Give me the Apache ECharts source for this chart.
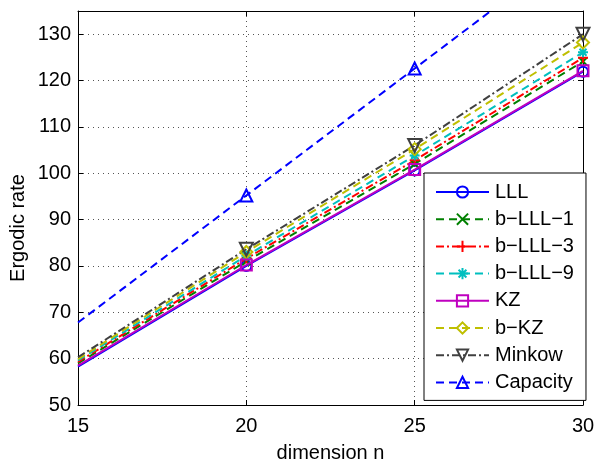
<!DOCTYPE html>
<html>
<head>
<meta charset="utf-8">
<script src="https://cdn.jsdelivr.net/npm/echarts@6/dist/echarts.min.js"></script>
<style>
html,body{margin:0;padding:0;background:#fff;}
#chart{width:598px;height:468px;}
</style>
</head>
<body>
<div id="chart"></div>
<script>
// ---- data ----
const dimensions = [15, 20, 25, 30];
const lll      = [58.3, 80.0, 100.6, 121.9];
const bLLL1    = [59.0, 81.0, 102.0, 124.1];
const bLLL3    = [59.3, 81.6, 102.8, 124.9];
const bLLL9    = [59.6, 82.2, 103.8, 126.1];
const kz       = [58.5, 80.2, 100.8, 122.1];
const bKZ      = [59.9, 83.0, 105.2, 128.2];
const minkow   = [60.3, 83.6, 106.0, 130.0];
const capacity = [67.8, 95.2, 122.6, 150.0];
const yTicks = [50, 60, 70, 80, 90, 100, 110, 120, 130];
const xTicks = [15, 20, 25, 30];

const FONT = '"Liberation Sans", Arial, sans-serif';
const SYM_X = 'path://M0,0L10,10M10,0L0,10';
const SYM_PLUS = 'path://M5,0L5,10M0,5L10,5';
const SYM_STAR = 'path://M5,0L5,10M0,5L10,5M1.5,1.5L8.5,8.5M8.5,1.5L1.5,8.5';
const SYM_DOWN = 'path://M0,0L10,0L5,9Z';
const SYM_UP = 'path://M5,0L10,9L0,9Z';

function mk(name, vals, color, lineType, symbol, symSize, z) {
  return {
    name: name,
    type: 'line',
    z: z,
    data: vals.map((v, i) => i === 0 ? {value: [dimensions[i], v], symbol: 'none'} : {value: [dimensions[i], v]}),
    symbol: symbol,
    symbolSize: symSize,
    showAllSymbol: true,
    lineStyle: {color: color, width: 2, type: lineType},
    itemStyle: {color: 'rgba(255,255,255,0)', borderColor: color, borderWidth: 2},
    emphasis: {disabled: true},
    animation: false,
    clip: true
  };
}

const chart = echarts.init(document.getElementById('chart'), null, {renderer: 'canvas'});
const dash = [8, 5];
const dashDot = [8, 3, 2, 3];
const series = [
  mk('LLL', lll, '#0000ff', 'solid', 'circle', 10, 2),
  mk('b\u2212LLL\u22121', bLLL1, '#008000', dash, SYM_X, 8, 3),
  mk('b\u2212LLL\u22123', bLLL3, '#ff0000', dashDot, SYM_PLUS, 10, 3),
  mk('b\u2212LLL\u22129', bLLL9, '#00bfbf', dash, SYM_STAR, 10, 3),
  mk('KZ', kz, '#bf00bf', 'solid', 'rect', 11, 4),
  mk('b\u2212KZ', bKZ, '#bfbf00', dash, 'diamond', 12, 3),
  mk('Minkow', minkow, '#404040', dashDot, SYM_DOWN, 13, 3),
  mk('Capacity', capacity, '#0000ff', dash, SYM_UP, 12, 3)
];

chart.setOption({
  backgroundColor: '#fff',
  animation: false,
  textStyle: {fontFamily: FONT},
  grid: {left: 78, right: 15, top: 11, bottom: 55, containLabel: false},
  graphic: [{
    type: 'text', x: 8, y: 228, rotation: Math.PI / 2,
    style: {text: 'Ergodic rate', fontSize: 20, fontFamily: FONT, fill: '#000',
      textAlign: 'center', textVerticalAlign: 'top'}
  }],
  xAxis: [{
    type: 'value', min: 15, max: 30, interval: 5,
    name: 'dimension n', nameLocation: 'middle', nameGap: 38,
    nameTextStyle: {fontSize: 20, color: '#000', fontFamily: FONT},
    axisLine: {show: true, onZero: false, lineStyle: {color: '#000', width: 1}},
    axisTick: {show: true, inside: true, length: 5, lineStyle: {color: '#000'}},
    axisLabel: {fontSize: 20, color: '#000', margin: 11, fontFamily: FONT,
      formatter: v => xTicks.includes(v) ? String(v) : ''},
    splitLine: {show: true, lineStyle: {color: '#555', type: [1, 4], width: 1}}
  }, {
    type: 'value', min: 15, max: 30, interval: 5, position: 'top',
    axisLine: {show: true, onZero: false, lineStyle: {color: '#000', width: 1}},
    axisTick: {show: true, inside: true, length: 5, lineStyle: {color: '#000'}},
    axisLabel: {show: false}, splitLine: {show: false}
  }],
  yAxis: [{
    type: 'value', min: 50, max: 135, interval: 10,
    axisLine: {show: true, onZero: false, lineStyle: {color: '#000', width: 1}},
    axisTick: {show: true, inside: true, length: 5, lineStyle: {color: '#000'}},
    axisLabel: {fontSize: 20, color: '#000', margin: 7, showMaxLabel: false, fontFamily: FONT,
      formatter: v => yTicks.includes(v) ? String(v) : ''},
    splitLine: {show: true, lineStyle: {color: '#555', type: [1, 4], width: 1}}
  }, {
    type: 'value', min: 50, max: 135, interval: 10, position: 'right',
    axisLine: {show: true, onZero: false, lineStyle: {color: '#000', width: 1}},
    axisTick: {show: true, inside: true, length: 5, lineStyle: {color: '#000'}},
    axisLabel: {show: false}, splitLine: {show: false}
  }],
  legend: {
    orient: 'vertical', left: 424, top: 173,
    backgroundColor: '#fff', borderColor: '#000', borderWidth: 1,
    padding: [9, 12, 8, 11],
    itemWidth: 53, itemHeight: 14, itemGap: 7.2,
    textStyle: {fontSize: 20, color: '#000', fontFamily: FONT, padding: [0, 0, 0, 1]},
    selectedMode: false
  },
  series: series
});
</script>
</body>
</html>
